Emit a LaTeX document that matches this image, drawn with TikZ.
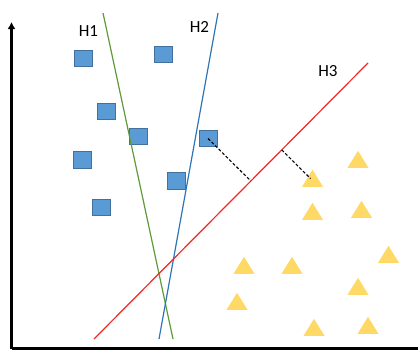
\documentclass[tikz,border=0pt]{standalone}
\usepackage{fontspec}
\setmainfont{Carlito}
\usetikzlibrary{arrows.meta,shapes.geometric,calc}
\definecolor{sqfill}{HTML}{5B9BD5}
\definecolor{sqedge}{HTML}{41719C}
\definecolor{trifill}{HTML}{FFD966}
\definecolor{hone}{HTML}{5E9A3A}
\definecolor{htwo}{HTML}{2E75B6}
\definecolor{hthree}{HTML}{F02828}
\tikzset{
  sq/.style={rectangle, draw=sqedge, fill=sqfill, line width=0.7pt, inner sep=0pt, minimum width=18pt, minimum height=16.5pt},
  tri/.style={isosceles triangle, isosceles triangle stretches, shape border rotate=90, fill=trifill, draw=none, inner sep=0pt, minimum width=21pt, minimum height=17pt, anchor=south},
  axis/.style={line width=2.2pt, black},
  hyp/.style={line width=1.2pt},
  lbl/.style={font=\fontsize{17}{20}\selectfont, inner sep=0pt},
  perp/.style={dashed, line width=1.1pt, dash pattern=on 3pt off 2pt}
}
\begin{document}
\begin{tikzpicture}[x=1pt,y=-1pt]
\useasboundingbox (0,0) rectangle (419,351);
% axes
\coordinate (o) at (11.5,348.5);
\coordinate (ytop) at (11.5,22);
\coordinate (xend) at (418,348.5);
\draw[axis, -{Latex[length=7pt,width=8pt]}] (o) -- (ytop);
\draw[axis] (o) -- (xend);
% squares
\node[sq] (s1) at (83.5,58.5) {};
\node[sq] (s2) at (163.5,54.5) {};
\node[sq] (s3) at (106,111.5) {};
\node[sq] (s4) at (138.5,136.5) {};
\node[sq] (s5) at (82.8,159.8) {};
\node[sq] (s6) at (208,138.5) {};
\node[sq] (s7) at (176,181) {};
\node[sq] (s8) at (101.3,207.3) {};
% triangles (anchor south = base midpoint)
\node[tri] (t1) at (312.5,187) {};
\node[tri] (t2) at (312.5,220) {};
\node[tri] (t3) at (361.5,218) {};
\node[tri] (t4) at (388.5,263) {};
\node[tri] (t5) at (244,274) {};
\node[tri] (t6) at (292,274) {};
\node[tri] (t7) at (358,295) {};
\node[tri] (t8) at (237,310) {};
\node[tri] (t9) at (314,336) {};
\node[tri] (t10) at (368,334) {};
\node[tri] (t11) at (358,168) {};
% hyperplanes
\coordinate (h1a) at (103,13);
\coordinate (h1b) at (173,339);
\coordinate (h2a) at (218,13);
\coordinate (h2b) at (159,339);
\coordinate (h3a) at (368,63);
\coordinate (h3b) at (94,339);
\draw[hyp, hone] (h1a) -- (h1b);
\draw[hyp, htwo] (h2a) -- (h2b);
\draw[hyp, hthree] (h3a) -- (h3b);
% labels
\node[lbl] (l1) at (88.5,31) {H1};
\node[lbl] (l2) at (199.5,26.5) {H2};
\node[lbl] (l3) at (328,71.5) {H3};
% margins
\coordinate (f1) at ($(h3a)!(s6.center)!(h3b)$);
\coordinate (tc) at (310.5,178.5);
\coordinate (f2) at ($(h3a)!(tc)!(h3b)$);
\draw[perp] (s6.center) -- (f1);
\draw[perp] (f2) -- (tc);
\end{tikzpicture}
\end{document}
